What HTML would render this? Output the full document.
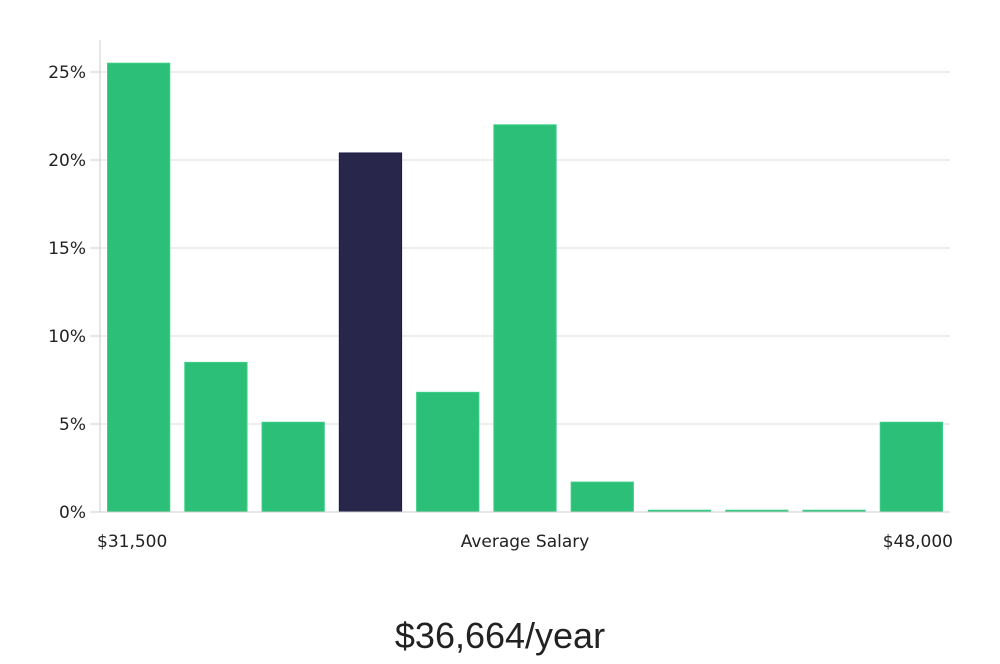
<!DOCTYPE html>
<html><head><meta charset="utf-8"><style>
body{margin:0;background:#fff;width:1000px;height:660px;overflow:hidden;font-family:"DejaVu Sans","Liberation Sans",sans-serif}
</style></head><body>
<svg id="chart" width="1000" height="660" xmlns="http://www.w3.org/2000/svg"></svg>
<script>
const categories=["b1","b2","b3","b4","b5","b6","b7","b8","b9","b10","b11"];
const values=[25.5,8.5,5.1,20.4,6.8,22.0,1.7,0.1,0.1,0.1,5.1];
const highlightIndex=3;
const yTicks=[0,5,10,15,20,25];
const yTickLabels=["0%","5%","10%","15%","20%","25%"];
const xLabels=["$31,500","Average Salary","$48,000"];
const summary="$36,664/year";

const NS="http://www.w3.org/2000/svg";
const svg=document.getElementById('chart');
const L=100,R=950,T=40,B=512;
const y=v=>B-v*17.6;
const slot=(R-L)/categories.length;
const x=i=>L+i*slot;
function mk(tag,a,txt){const e=document.createElementNS(NS,tag);for(const k in a)e.setAttribute(k,a[k]);if(txt!==undefined)e.textContent=txt;svg.appendChild(e);return e;}
yTicks.forEach((t,i)=>{
 const g=mk('line',{x1:L,x2:R,y1:y(t),y2:y(t),stroke:'#dcdcdc','stroke-width':1});
 
 
 const tk=mk('line',{x1:L-10,x2:L,y1:y(t),y2:y(t),stroke:'#ccc','stroke-width':1});
 
 
 const lb=mk('text',{x:L-14,y:y(t)+6,'text-anchor':'end','font-size':17,fill:'#222'},yTickLabels[i]);
 
 
});
const ax=mk('line',{x1:L,x2:L,y1:T,y2:B,stroke:'#ccc','stroke-width':1});


values.forEach((v,i)=>{
 const hi=i===highlightIndex;
 const top=y(v);
 const r=mk('rect',{x:x(i)+7.5,y:top,width:slot-15,height:Math.max(B-top,1),fill:hi?'#28264a':'#2bbf78',stroke:hi?'#1d1b45':'#3ecf88','stroke-width':1});
 
 
});
const xa=mk('line',{x1:L,x2:R,y1:B,y2:B,stroke:'#ccc','stroke-width':1});


const pos=[[97,'start'],[525,'middle'],[953,'end']];
xLabels.forEach((t,i)=>{
 const e=mk('text',{x:pos[i][0],y:547,'text-anchor':pos[i][1],'font-size':17,fill:'#222'},t);
 
 
});
const s=mk('text',{x:500,y:648,'text-anchor':'middle','font-size':36,fill:'#222','font-family':'"Liberation Sans",sans-serif'},summary);


</script>
</body></html>
